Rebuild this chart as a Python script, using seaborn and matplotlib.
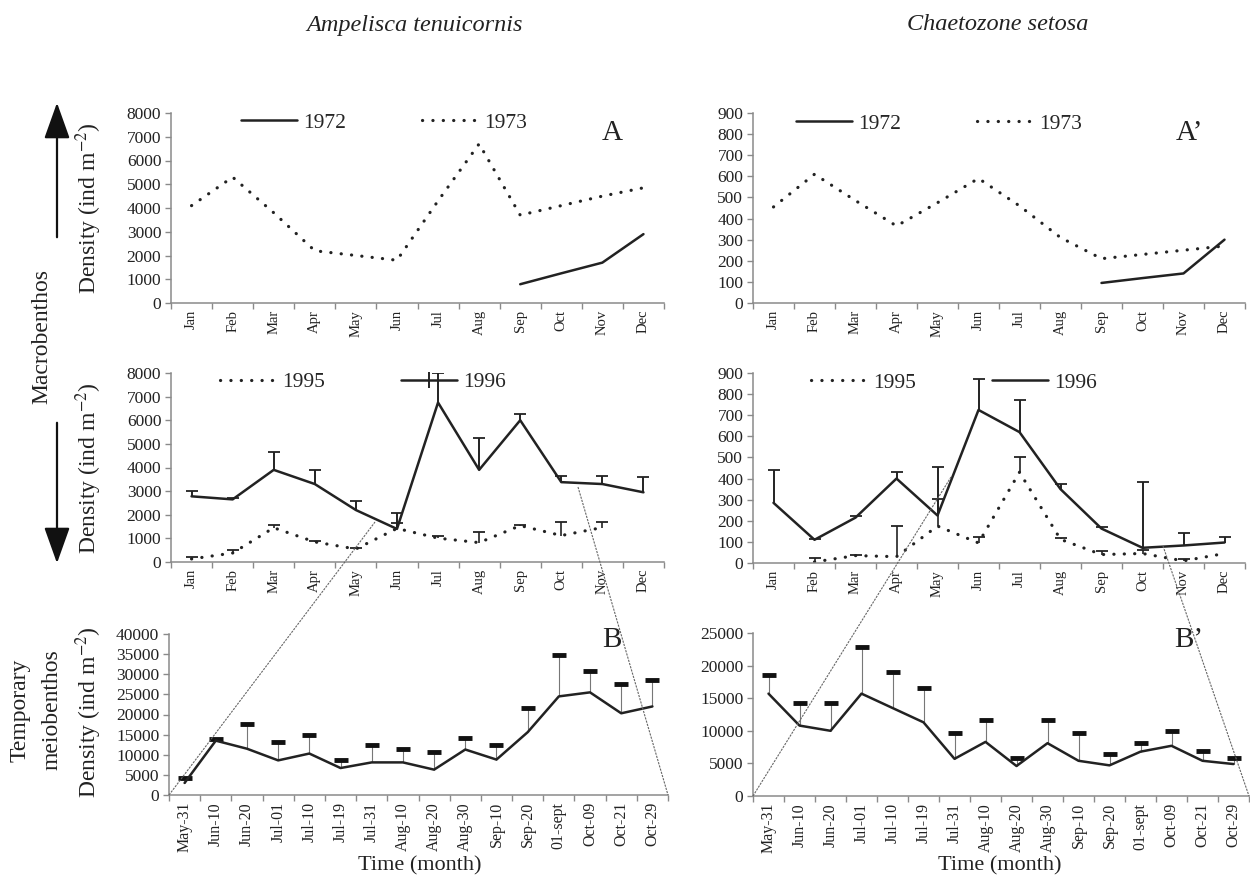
import numpy as np
import matplotlib
matplotlib.use("Agg")
import matplotlib.pyplot as plt
import seaborn as sns
from matplotlib.lines import Line2D
from matplotlib.patches import FancyArrowPatch
from matplotlib.legend_handler import HandlerTuple

nan = np.nan

# ---- categories -------------------------------------------------------------
months = ["Jan", "Feb", "Mar", "Apr", "May", "Jun",
          "Jul", "Aug", "Sep", "Oct", "Nov", "Dec"]
dates = ["May-31", "Jun-10", "Jun-20", "Jul-01", "Jul-10", "Jul-19", "Jul-31",
         "Aug-10", "Aug-20", "Aug-30", "Sep-10", "Sep-20", "01-sept", "Oct-09",
         "Oct-21", "Oct-29"]

# ---- macrobenthos, historical survey (ind m-2) -------------------------------
amp_1972 = [nan, nan, nan, nan, nan, nan, nan, nan, 790, 1250, 1700, 2900]
amp_1973 = [4100, 5300, 3800, 2200, 2000, 1800, 4300, 6700, 3700, 4100, 4500, 4850]
cha_1972 = [nan, nan, nan, nan, nan, nan, nan, nan, 95, 118, 140, 300]
cha_1973 = [455, 610, 485, 365, 475, 590, 460, 310, 210, 230, 250, 270]

# ---- macrobenthos, recent survey: mean and mean + error -----------------------
amp_1995 = [130, 380, 1450, 850, 550, 1420, 1010, 820, 1540, 1120, 1460, nan]
amp_1995_top = [200, 520, 1550, 900, 600, 1650, 1080, 1270, 1580, 1680, 1700, nan]
amp_1996 = [2780, 2650, 3900, 3300, 2200, 1400, 6750, 3900, 6000, 3380, 3300, 2950]
amp_1996_top = [3000, 2700, 4650, 3900, 2600, 2080, 8000, 5250, 6250, 3650, 3650, 3600]

cha_1995 = [nan, 5, 35, 30, 175, 95, 430, 112, 40, 45, 10, 45]
cha_1995_top = [nan, 25, 40, 175, 305, 125, 500, 120, 57, 60, 19, nan]
cha_1996 = [285, 110, 215, 400, 225, 725, 620, 350, 163, 72, 83, 97]
cha_1996_top = [440, 115, 225, 430, 455, 870, 770, 375, 170, 385, 140, 123]

# ---- temporary meiobenthos, recent survey (ind m-2) ---------------------------
amp_meio = [3000, 13500, 11500, 8600, 10300, 6700, 8100, 8100, 6300, 11300,
            8800, 15600, 24500, 25500, 20300, 22000]
amp_meio_top = [4300, 14000, 17700, 13200, 15000, 8700, 12400, 11500, 10800,
                14200, 12300, 21600, 34800, 30800, 27500, 28500]
cha_meio = [15700, 10800, 10000, 15700, 13500, 11300, 5700, 8300, 4600, 8100,
            5400, 4700, 6800, 7700, 5400, 4900]
cha_meio_top = [18500, 14200, 14200, 22800, 19000, 16500, 9700, 11700, 5800,
                11700, 9600, 6400, 8200, 10000, 6900, 5900]

# ---- style -------------------------------------------------------------------
sns.set_style("ticks")
plt.rcParams["font.family"] = ["Liberation Serif", "DejaVu Serif"]
plt.rcParams["mathtext.fontset"] = "stix"

W, H = 1250, 890
fig = plt.figure(figsize=(W / 100, H / 100), dpi=100)

INK = "#222222"
AXC = "#8a8a8a"
DOT = (0, (0.05, 3.2))
DOT_LW = 2.3


def box(left, top, right, bottom):
    return [left / W, 1 - bottom / H, (right - left) / W, (bottom - top) / H]


def style_axis(ax, labels, ymax, ystep, xfs):
    n = len(labels)
    ax.set_xlim(0, n)
    ax.set_ylim(0, ymax)
    ax.set_yticks(np.arange(0, ymax + 1, ystep))
    ax.set_xticks(np.arange(0, n + 1))
    ax.set_xticklabels([])
    ax.set_xticks(np.arange(n) + 0.5, minor=True)
    ax.set_xticklabels(labels, minor=True, rotation=90, fontsize=xfs, color=INK)
    ax.tick_params(axis="x", which="minor", length=0, pad=5)
    ax.tick_params(axis="x", which="major", length=4, width=1, color=AXC)
    ax.tick_params(axis="y", length=4, width=1, color=AXC, labelsize=12.5,
                   labelcolor=INK, pad=3)
    for s in ("top", "right"):
        ax.spines[s].set_visible(False)
    for s in ("left", "bottom"):
        ax.spines[s].set_color(AXC)
        ax.spines[s].set_linewidth(1.1)
    ax.set_xlabel("")
    ax.set_ylabel("")


def series(ax, vals, dotted=False, lw=1.8):
    x = np.arange(len(vals)) + 0.5
    sns.lineplot(x=x, y=np.asarray(vals, float), ax=ax, color=INK,
                 linewidth=DOT_LW if dotted else lw,
                 linestyle=DOT if dotted else "-",
                 dash_capstyle="round", legend=False)


def upper_err(ax, vals, tops, cap_ms=9, cap_mew=1.3, lw=1.4, lcol=INK, ccol=INK):
    v = np.asarray(vals, float)
    t = np.asarray(tops, float)
    x = np.arange(len(v)) + 0.5
    ok = ~np.isnan(v) & ~np.isnan(t)
    ax.vlines(x[ok], v[ok], t[ok], color=lcol, linewidth=lw)
    ax.plot(x[ok], t[ok], linestyle="none", marker="_", ms=cap_ms,
            mew=cap_mew, color=ccol)


def legend(ax, handles, labels, x, y):
    ax.legend(handles, labels, ncol=2, loc="center left",
              bbox_to_anchor=(x / W, 1 - y / H), bbox_transform=fig.transFigure,
              frameon=False, fontsize=15.5, handlelength=2.6,
              handletextpad=0.3, columnspacing=3.5, borderpad=0,
              borderaxespad=0, handler_map={tuple: HandlerTuple(ndivide=1)})


solid_h = Line2D([], [], color=INK, lw=1.8)
dot_h = Line2D([], [], color=INK, lw=DOT_LW, linestyle=DOT, dash_capstyle="round")
bar_h = (solid_h, Line2D([], [], color=INK, marker="|", ms=12, mew=1.4,
                         linestyle="none"))

# ---- A: Ampelisca 1972/1973 --------------------------------------------------
axA = fig.add_axes(box(171, 113, 664, 303))
series(axA, amp_1972)
series(axA, amp_1973, dotted=True)
style_axis(axA, months, 8000, 1000, 10.5)
legend(axA, [solid_h, dot_h], ["1972", "1973"], 241, 123)
axA.text(612 / W, 1 - 133 / H, "A", transform=fig.transFigure, fontsize=21,
         ha="center", va="center", color=INK)

# ---- A': Chaetozone 1972/1973 ------------------------------------------------
axA2 = fig.add_axes(box(753, 113, 1245, 303))
series(axA2, cha_1972)
series(axA2, cha_1973, dotted=True)
style_axis(axA2, months, 900, 100, 10.5)
legend(axA2, [solid_h, dot_h], ["1972", "1973"], 796, 124)
axA2.text(1189 / W, 1 - 133 / H, "A\u2019", transform=fig.transFigure,
          fontsize=21, ha="center", va="center", color=INK)

# ---- middle: 1995/1996 -------------------------------------------------------
axM = fig.add_axes(box(171, 373, 664, 562))
upper_err(axM, amp_1995, amp_1995_top, cap_ms=8, lw=1.2)
upper_err(axM, amp_1996, amp_1996_top, cap_ms=9, lw=1.4)
series(axM, amp_1995, dotted=True)
series(axM, amp_1996)
style_axis(axM, months, 8000, 1000, 10.5)
legend(axM, [dot_h, bar_h], ["1995", "1996"], 220, 382)

axM2 = fig.add_axes(box(753, 373, 1245, 563))
upper_err(axM2, cha_1995, cha_1995_top, cap_ms=8, lw=1.2)
upper_err(axM2, cha_1996, cha_1996_top, cap_ms=9, lw=1.4)
series(axM2, cha_1995, dotted=True)
series(axM2, cha_1996)
style_axis(axM2, months, 900, 100, 10.5)
legend(axM2, [dot_h, solid_h], ["1995", "1996"], 811, 383)

# ---- B: temporary meiobenthos ------------------------------------------------
axB = fig.add_axes(box(169, 634, 668, 795))
upper_err(axB, amp_meio, amp_meio_top, cap_ms=10, cap_mew=3.5, lw=0.8,
          lcol="#777777", ccol="#111111")
series(axB, amp_meio)
style_axis(axB, dates, 40000, 5000, 11.5)
axB.text(612 / W, 1 - 640 / H, "B", transform=fig.transFigure, fontsize=21,
         ha="center", va="center", color=INK)

axB2 = fig.add_axes(box(753, 633, 1249, 796))
upper_err(axB2, cha_meio, cha_meio_top, cap_ms=10, cap_mew=3.5, lw=0.8,
          lcol="#777777", ccol="#111111")
series(axB2, cha_meio)
style_axis(axB2, dates, 25000, 5000, 11.5)
axB2.text(1189 / W, 1 - 640 / H, "B\u2019", transform=fig.transFigure,
          fontsize=21, ha="center", va="center", color=INK)

# ---- figure-level annotation -------------------------------------------------
def ftext(x, y, s, **kw):
    fig.text(x / W, 1 - y / H, s, ha="center", va="center", color=INK, **kw)


ftext(415, 25, "Ampelisca tenuicornis", fontsize=17.5, style="italic")
ftext(998, 25, "Chaetozone setosa", fontsize=17.5, style="italic")

dens = "Density (ind m$^{-2}$)"
ftext(89, 208, dens, fontsize=17, rotation=90)
ftext(89, 468, dens, fontsize=17, rotation=90)
ftext(89, 712, dens, fontsize=17, rotation=90)
ftext(42, 337, "Macrobenthos", fontsize=17, rotation=90)
ftext(20, 710, "Temporary", fontsize=17, rotation=90)
ftext(52, 710, "meiobenthos", fontsize=17, rotation=90)
ftext(420, 866, "Time (month)", fontsize=16)
ftext(1000, 866, "Time (month)", fontsize=16)

for y0, y1 in ((240, 100), (420, 566)):
    fig.add_artist(FancyArrowPatch((57 / W, 1 - y0 / H), (57 / W, 1 - y1 / H),
                                   transform=fig.transFigure,
                                   arrowstyle="-|>,head_length=1.4,head_width=0.5",
                                   mutation_scale=16, lw=1.6, color="#111111"))

# zoom guides from the monthly panels down to the sampling-date panels
for (x0, y0), (x1, y1) in (((169, 795), (375, 522)), ((578, 487), (668, 795)),
                           ((753, 796), (951, 477)), ((1163, 546), (1249, 796))):
    fig.add_artist(Line2D([x0 / W, x1 / W], [1 - y0 / H, 1 - y1 / H],
                          transform=fig.transFigure, color="#666666", lw=0.8,
                          linestyle=(0, (2, 1))))

fig.savefig("out.png", dpi=100)
